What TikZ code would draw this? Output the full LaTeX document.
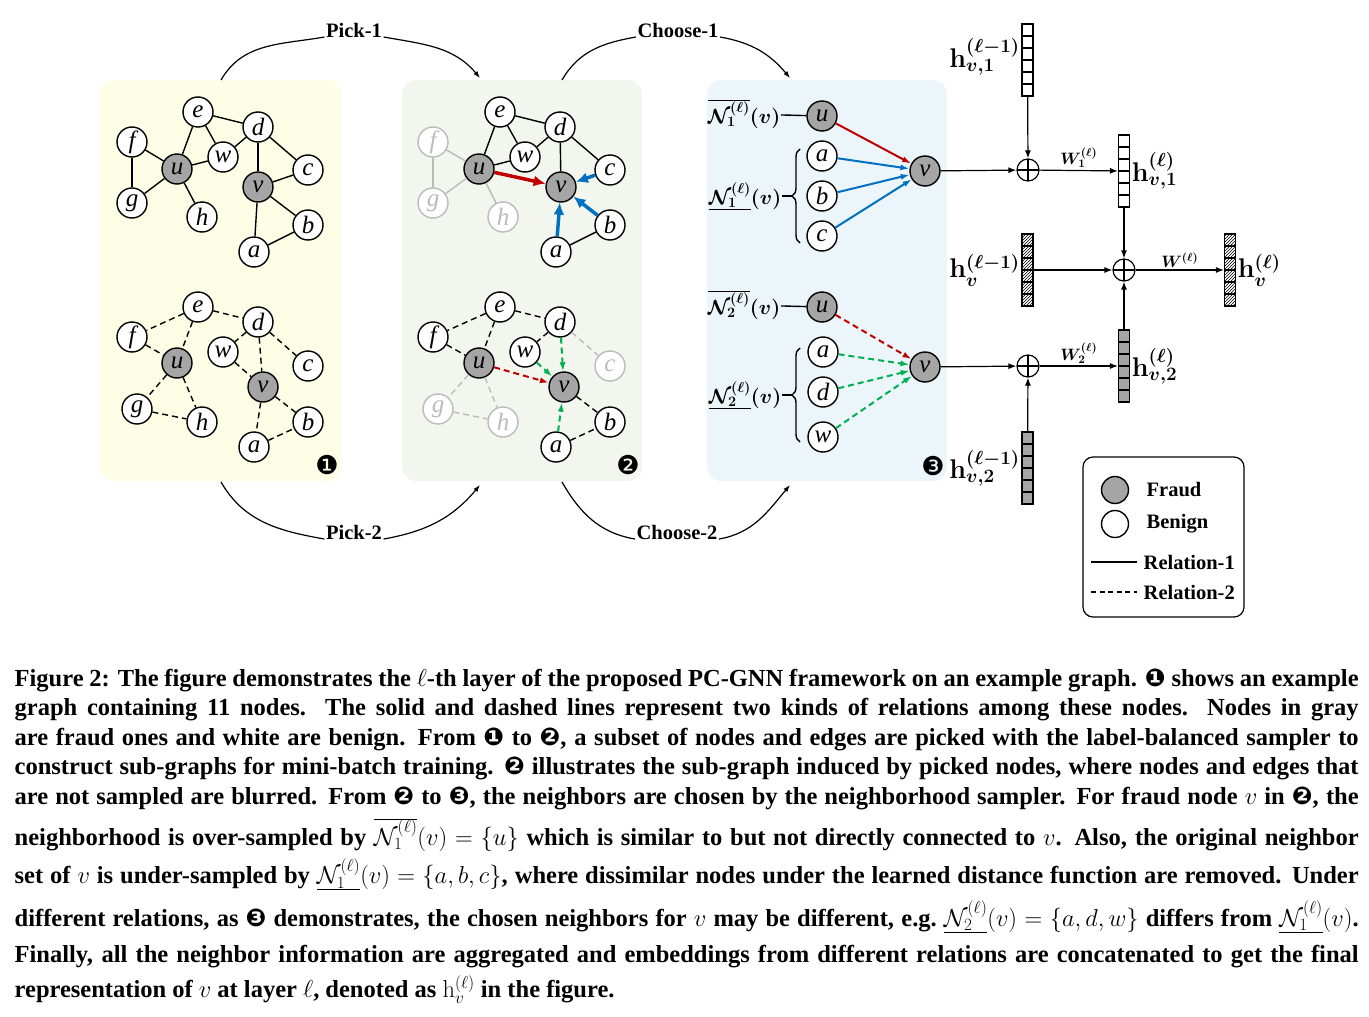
\RequirePackage{fix-cm}
\documentclass[tikz,border=0pt]{standalone}
\usepackage[no-math]{fontspec}
\setmainfont{Liberation Serif}
\newfontfamily\symfont{DejaVu Sans}
\usetikzlibrary{arrows.meta,patterns,decorations.pathreplacing}

\definecolor{fraud}{HTML}{A5A5A5}
\definecolor{blur}{HTML}{BBBBBB}
\definecolor{bgone}{HTML}{FEFEE6}
\definecolor{bgtwo}{HTML}{F3F6EE}
\definecolor{bgthree}{HTML}{ECF5FA}
\definecolor{redarc}{HTML}{C00000}
\definecolor{bluearc}{HTML}{0070C0}
\definecolor{greenarc}{HTML}{00B050}

\tikzset{
  ben/.style={circle, draw, fill=white, line width=1.4pt, minimum size=30pt, inner sep=0pt,
    font=\fontsize{25}{25}\selectfont\itshape},
  frd/.style={ben, fill=fraud},
  blr/.style={ben, draw=blur, text=blur},
  rel2/.style={dash pattern=on 6pt off 4pt},
  vec/.style={draw, line width=1.2pt, minimum width=11pt, minimum height=72pt, inner sep=0pt,
    path picture={\foreach \k in {1,...,5}
      \draw[line width=1.2pt] ([yshift={-12pt*\k}]path picture bounding box.north west)
        -- ([yshift={-12pt*\k}]path picture bounding box.north east);}},
  plus/.style={circle, draw, line width=1.2pt, minimum size=22pt, inner sep=0pt,
    path picture={\draw[line width=1.2pt]
      (path picture bounding box.north) -- (path picture bounding box.south)
      (path picture bounding box.west) -- (path picture bounding box.east);}},
  lbl/.style={font=\fontsize{20.5}{24}\selectfont\bfseries, inner sep=1pt},
  hlbl/.style={font=\fontsize{27}{30}\selectfont\boldmath, inner sep=1pt},
  wlbl/.style={font=\fontsize{16.5}{18}\selectfont\boldmath, inner sep=2pt},
  nlbl/.style={font=\fontsize{20.5}{22}\selectfont\boldmath, inner sep=0pt},
  num/.style={font=\symfont\fontsize{26}{26}\selectfont, inner sep=0pt},
}

\begin{document}
\begin{tikzpicture}[x=1pt, y=1pt, >={Latex[length=9pt,width=6pt]}, line width=1.4pt]
  \useasboundingbox (0,0) rectangle (1369,-1017);

  \fill[bgone, rounded corners=14pt] (100,-80) rectangle (341,-481);
  \fill[bgtwo, rounded corners=14pt] (402,-80) rectangle (642,-481);
  \fill[bgthree, rounded corners=14pt] (707,-80) rectangle (947,-481);

  \draw
    (198,-112) node[ben] (11e) {e}
    (258,-127) node[ben] (11d) {d}
    (132,-142) node[ben] (11f) {f}
    (223,-157) node[ben] (11w) {w}
    (177,-169) node[frd] (11u) {u}
    (308,-170) node[ben] (11c) {c}
    (258,-187) node[frd] (11v) {v}
    (132,-203) node[ben] (11g) {g}
    (202,-217) node[ben] (11h) {h}
    (308,-225) node[ben] (11b) {b}
    (254,-252) node[ben] (11a) {a};
  \draw
    (198,-307) node[ben] (12e) {e}
    (258,-322) node[ben] (12d) {d}
    (132,-337) node[ben] (12f) {f}
    (223,-352) node[ben] (12w) {w}
    (177,-363) node[frd] (12u) {u}
    (308,-366) node[ben] (12c) {c}
    (263,-387) node[frd] (12v) {v}
    (137,-409) node[ben] (12g) {g}
    (202,-422) node[ben] (12h) {h}
    (308,-422) node[ben] (12b) {b}
    (254,-447) node[ben] (12a) {a};
  \draw
    (500,-112) node[ben] (21e) {e}
    (560,-127) node[ben] (21d) {d}
    (433,-142) node[blr] (21f) {f}
    (525,-157) node[ben] (21w) {w}
    (479,-169) node[frd] (21u) {u}
    (610,-170) node[ben] (21c) {c}
    (561,-187) node[frd] (21v) {v}
    (433,-203) node[blr] (21g) {g}
    (503,-217) node[blr] (21h) {h}
    (610,-225) node[ben] (21b) {b}
    (556,-252) node[ben] (21a) {a};
  \draw
    (500,-307) node[ben] (22e) {e}
    (560,-322) node[ben] (22d) {d}
    (433,-337) node[ben] (22f) {f}
    (525,-352) node[ben] (22w) {w}
    (479,-363) node[frd] (22u) {u}
    (610,-366) node[blr] (22c) {c}
    (564,-387) node[frd] (22v) {v}
    (438,-409) node[blr] (22g) {g}
    (503,-422) node[blr] (22h) {h}
    (610,-422) node[ben] (22b) {b}
    (556,-447) node[ben] (22a) {a};
  \draw
    (822,-116) node[frd] (31u) {u}
    (822,-156) node[ben] (31a) {a}
    (822,-196) node[ben] (31b) {b}
    (822,-236) node[ben] (31c) {c}
    (925,-171) node[frd] (31v) {v}
    (822,-307) node[frd] (32u) {u}
    (823,-352) node[ben] (32a) {a}
    (823,-392) node[ben] (32d) {d}
    (823,-437) node[ben] (32w) {w}
    (925,-367) node[frd] (32v) {v};

  \begin{scope}[-]
    \draw (11e) to (11u);
    \draw (11e) to (11w);
    \draw (11e) to (11d);
    \draw (11d) to (11w);
    \draw (11d) to (11v);
    \draw (11d) to (11c);
    \draw (11f) to (11u);
    \draw (11f) to (11g);
    \draw (11g) to (11u);
    \draw (11u) to (11w);
    \draw (11u) to (11h);
    \draw (11v) to (11c);
    \draw (11v) to (11b);
    \draw (11v) to (11a);
    \draw (11a) to (11b);
  \end{scope}
  \begin{scope}[rel2]
    \draw (12e) to (12f);
    \draw (12e) to (12u);
    \draw (12e) to (12d);
    \draw (12f) to (12u);
    \draw (12u) to (12g);
    \draw (12u) to (12h);
    \draw (12g) to (12h);
    \draw (12d) to (12w);
    \draw (12d) to (12v);
    \draw (12d) to (12c);
    \draw (12w) to (12v);
    \draw (12v) to (12b);
    \draw (12v) to (12a);
    \draw (12a) to (12b);
  \end{scope}
  \begin{scope}[-]
    \draw (21e) to (21u);
    \draw (21e) to (21w);
    \draw (21e) to (21d);
    \draw (21d) to (21w);
    \draw (21u) to (21w);
    \draw (21d) to (21v);
    \draw (21d) to (21c);
    \draw (21a) to (21b);
    \draw[blur] (21f) to (21u);
    \draw[blur] (21f) to (21g);
    \draw[blur] (21g) to (21u);
    \draw[blur] (21u) to (21h);
    \draw[redarc, line width=3.5pt, -{Latex[length=12pt,width=11pt]}] (21u) to (21v);
    \draw[bluearc, line width=3.5pt, -{Latex[length=12pt,width=11pt]}] (21c) to (21v);
    \draw[bluearc, line width=3.5pt, -{Latex[length=12pt,width=11pt]}] (21b) to (21v);
    \draw[bluearc, line width=3.5pt, -{Latex[length=12pt,width=11pt]}] (21a) to (21v);
  \end{scope}
  \begin{scope}[rel2]
    \draw (22e) to (22f);
    \draw (22e) to (22u);
    \draw (22e) to (22d);
    \draw (22f) to (22u);
    \draw (22d) to (22w);
    \draw (22v) to (22b);
    \draw (22a) to (22b);
    \draw[blur] (22d) to (22c);
    \draw[blur] (22u) to (22g);
    \draw[blur] (22u) to (22h);
    \draw[blur] (22g) to (22h);
    \draw[redarc, line width=2pt, ->] (22u) to (22v);
    \draw[greenarc, line width=2pt, ->] (22w) to (22v);
    \draw[greenarc, line width=2pt, ->] (22d) to (22v);
    \draw[greenarc, line width=2pt, ->] (22a) to (22v);
  \end{scope}

  \node[nlbl, anchor=east] (31No) at (781,-114) {$\overline{\mathcal{N}_1^{(\ell)}}(v)$};
  \node[nlbl, anchor=east] (31Nu) at (782,-196) {$\underline{\mathcal{N}_1^{(\ell)}}(v)$};
  \node[nlbl, anchor=east] (32No) at (781,-305) {$\overline{\mathcal{N}_2^{(\ell)}}(v)$};
  \node[nlbl, anchor=east] (32Nu) at (782,-395) {$\underline{\mathcal{N}_2^{(\ell)}}(v)$};
  \coordinate (31br) at (792,-196);
  \coordinate (32br) at (792,-395);
  \draw[decorate, decoration={brace, amplitude=8pt}] (800,-243) -- (800,-149);
  \draw[decorate, decoration={brace, amplitude=8pt}] (800,-442) -- (800,-348);
  \draw (31No) -- (31u);
  \draw (31Nu) -- (31br);
  \draw (32No) -- (32u);
  \draw (32Nu) -- (32br);
  \begin{scope}[line width=2pt]
    \draw[redarc, ->] (31u) to (31v);
    \draw[bluearc, ->] (31a) to (31v);
    \draw[bluearc, ->] (31b) to (31v);
    \draw[bluearc, ->] (31c) to (31v);
    \draw[redarc, rel2, ->] (32u) to (32v);
    \draw[greenarc, rel2, ->] (32a) to (32v);
    \draw[greenarc, rel2, ->] (32d) to (32v);
    \draw[greenarc, rel2, ->] (32w) to (32v);
  \end{scope}

  \node[plus] (s1) at (1028,-170) {};
  \node[plus] (sm) at (1124,-270) {};
  \node[plus] (s2) at (1028,-366) {};
  \node[vec] (hA) at (1027.5,-60) {};
  \node[vec] (hB) at (1124,-171) {};
  \node[vec, pattern=north east lines] (hC) at (1027.5,-270) {};
  \node[vec, pattern=north east lines] (hD) at (1230,-270) {};
  \node[vec, fill=fraud] (hE) at (1124,-366) {};
  \node[vec, fill=fraud] (hF) at (1027.5,-468) {};
  \node[hlbl, anchor=east] (lhA) at ([yshift=3pt]hA.west) {$\mathbf{h}^{(\ell-1)}_{v,1}$};
  \node[hlbl, anchor=west] (lhB) at (hB.east) {$\mathbf{h}^{(\ell)}_{v,1}$};
  \node[hlbl, anchor=east] (lhC) at (hC.west) {$\mathbf{h}^{(\ell-1)}_{v}$};
  \node[hlbl, anchor=west] (lhD) at (hD.east) {$\mathbf{h}^{(\ell)}_{v}$};
  \node[hlbl, anchor=west] (lhE) at (hE.east) {$\mathbf{h}^{(\ell)}_{v,2}$};
  \node[hlbl, anchor=east] (lhF) at (hF.west) {$\mathbf{h}^{(\ell-1)}_{v,2}$};
  \begin{scope}[line width=1.2pt, >={Latex[length=8pt,width=6pt]}]
    \draw[->] (31v) -- (s1);
    \draw[->] (hA) -- (s1);
    \draw[->] (s1) -- node[wlbl, above] (lw1) {$W_1^{(\ell)}$} (hB);
    \draw[->] (hB) -- (sm);
    \draw[->] (hC) -- (sm);
    \draw[->] (hE) -- (sm);
    \draw[->] (sm) -- node[wlbl, above] (lw) {$W^{(\ell)}$} (hD);
    \draw[->] (32v) -- (s2);
    \draw[->] (hF) -- (s2);
    \draw[->] (s2) -- node[wlbl, above] (lw2) {$W_2^{(\ell)}$} (hE);
  \end{scope}

  \node[num] (n1) at (327,-465) {❶};
  \node[num] (n2) at (628,-465) {❷};
  \node[num] (n3) at (933,-466) {❸};

  \coordinate (p1s) at (221,-80);
  \coordinate (p1t) at (480,-78);
  \coordinate (c1s) at (562,-80);
  \coordinate (c1t) at (790,-78);
  \coordinate (p2s) at (221,-482);
  \coordinate (p2t) at (480,-485);
  \coordinate (c2s) at (562,-482);
  \coordinate (c2t) at (790,-485);
  \node[lbl] (pick1) at (354,-30) {Pick-1};
  \node[lbl] (choose1) at (678,-30) {Choose-1};
  \node[lbl] (pick2) at (354,-532) {Pick-2};
  \node[lbl] (choose2) at (677,-532) {Choose-2};
  \begin{scope}[line width=1.2pt, >={Latex[length=7pt,width=5pt]}]
    \draw (p1s) to[out=60,in=190] (pick1.base west);
    \draw[->] (pick1.base east) to[out=-10,in=130] (p1t);
    \draw (c1s) to[out=60,in=190] (choose1.base west);
    \draw[->] (choose1.base east) to[out=-10,in=130] (c1t);
    \draw (p2s) to[out=-60,in=170] (pick2.base west);
    \draw[->] (pick2.base east) to[out=10,in=-130] (p2t);
    \draw (c2s) to[out=-60,in=170] (choose2.base west);
    \draw[->] (choose2.base east) to[out=10,in=-130] (c2t);
  \end{scope}

  \node[draw, line width=1.2pt, rounded corners=10pt, minimum width=161pt, minimum height=160pt] (leg) at (1163.5,-537) {};
  \node[frd, minimum size=27pt] (lf) at (1115,-490) {};
  \node[ben, minimum size=27pt] (lb) at (1115,-524) {};
  \node[lbl, anchor=west] (lft) at (1145,-490) {Fraud};
  \node[lbl, anchor=west] (lbt) at (1145,-524) {Benign};
  \coordinate (r1a) at (1091,-562);
  \coordinate (r1b) at (1137,-562);
  \coordinate (r2a) at (1091,-592);
  \coordinate (r2b) at (1137,-592);
  \draw[line width=1.2pt] (r1a) -- (r1b);
  \draw[line width=1.2pt, dash pattern=on 5pt off 3.5pt] (r2a) -- (r2b);
  \node[lbl, anchor=west] (r1t) at (1142,-562) {Relation-1};
  \node[lbl, anchor=west] (r2t) at (1142,-592) {Relation-2};

  \node[anchor=north west, text width=1344pt, align=justify, inner sep=0pt,
    font=\fontsize{24.5}{29.5}\selectfont\bfseries] (cap) at (14,-668) {\spaceskip=0.25em plus 0.4em minus 0.18em\tolerance=9999
    \lineskiplimit=-100pt
    Figure 2: The figure demonstrates the $\ell$-th layer of the proposed PC-GNN framework on an example graph. {\symfont ❶} shows an example\linebreak
    graph containing 11 nodes. The solid and dashed lines represent two kinds of relations among these nodes. Nodes in gray\linebreak
    are fraud ones and white are benign. From {\symfont ❶} to {\symfont ❷}, a subset of nodes and edges are picked with the label-balanced sampler to\linebreak
    construct sub-graphs for mini-batch training. {\symfont ❷} illustrates the sub-graph induced by picked nodes, where nodes and edges that\linebreak
    are not sampled are blurred. From {\symfont ❷} to {\symfont ❸}, the neighbors are chosen by the neighborhood sampler. For fraud node $v$ in {\symfont ❷}, the\vadjust{\vskip 7.5pt}\linebreak
    neighborhood is over-sampled by $\overline{\mathcal{N}_1^{(\ell)}}(v)=\{u\}$ which is similar to but not directly connected to $v$. Also, the original neighbor\vadjust{\vskip 5.5pt}\linebreak
    set of $v$ is under-sampled by $\underline{\mathcal{N}_1^{(\ell)}}(v)=\{a,b,c\}$, where dissimilar nodes under the learned distance function are removed. Under\vadjust{\vskip 9.5pt}\linebreak
    different relations, as {\symfont ❸} demonstrates, the chosen neighbors for $v$ may be different, e.g.\ $\underline{\mathcal{N}_2^{(\ell)}}(v)=\{a,d,w\}$ differs from $\underline{\mathcal{N}_1^{(\ell)}}(v)$.\vadjust{\vskip 6.5pt}\linebreak
    Finally, all the neighbor information are aggregated and embeddings from different relations are concatenated to get the final\vadjust{\vskip 5.5pt}\linebreak
    representation of $v$ at layer $\ell$, denoted as $\mathrm{h}_v^{(\ell)}$ in the figure.};
\end{tikzpicture}
\end{document}
